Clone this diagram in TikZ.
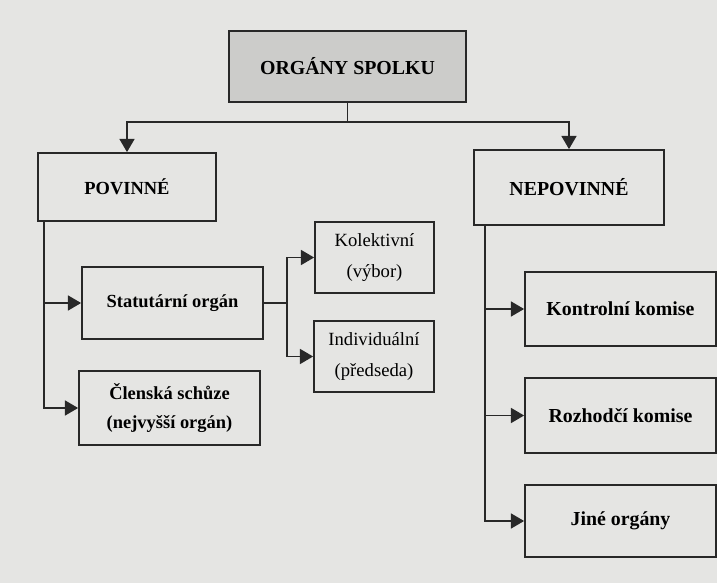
\documentclass[tikz,border=0pt]{standalone}
\usepackage{fontspec}
\setmainfont{Liberation Serif}
\usepackage{tikz}
\usetikzlibrary{arrows.meta}

\definecolor{paper}{RGB}{229,229,227}
\definecolor{ink}{RGB}{40,40,40}
\definecolor{headfill}{RGB}{204,204,202}

\tikzset{
  box/.style={draw=ink, line width=1pt, rectangle, align=center,
    inner sep=0pt, font=\fontsize{10.5}{17}\selectfont\bfseries},
  bigbox/.style={box, font=\fontsize{11.3}{17}\selectfont\bfseries},
  subbox/.style={box, font=\fontsize{10.6}{18}\selectfont},
  link/.style={draw=ink, line width=1pt},
  arr/.style={link, -{Triangle[length=7.5pt,width=8.5pt]}}
}

\begin{document}
\begin{tikzpicture}
      \fill[paper] (0,0) rectangle (14.34,11.66);
      \useasboundingbox (0,0) rectangle (14.34,11.66);

      \node[bigbox, fill=headfill, minimum width=4.74cm, minimum height=1.42cm] (top) at (6.95,10.33) {ORGÁNY SPOLKU};

      \node[box, minimum width=3.56cm, minimum height=1.36cm] (povinne) at (2.54,7.92) {POVINNÉ};
      \node[bigbox, minimum width=3.8cm, minimum height=1.5cm] (nepovinne) at (11.38,7.91) {NEPOVINNÉ};

      \coordinate (split) at (6.95,9.22);
      \draw[link] (top.south) -- (split);
      \draw[arr] (split) -| (povinne.north);
      \draw[arr] (split) -| (nepovinne.north);

      % povinne organy
      \node[box, minimum width=3.62cm, minimum height=1.44cm] (statutarni) at (3.45,5.6) {Statutární orgán};
      \node[box, minimum width=3.62cm, minimum height=1.48cm] (clenska) at (3.39,3.5) {Členská schůze\\(nejvyšší orgán)};

      \coordinate (pv) at (0.88,7.24);
      \draw[arr] (pv) |- (statutarni.west);
      \draw[arr] (pv) |- (clenska.west);

      \node[subbox, minimum width=2.38cm, minimum height=1.42cm] (kolektivni) at (7.49,6.51) {Kolektivní\\(výbor)};
      \node[subbox, minimum width=2.4cm, minimum height=1.42cm] (individualni) at (7.48,4.53) {Individuální\\(předseda)};

      \coordinate (st) at (5.74,5.6);
      \draw[link] (statutarni.east) -- (st);
      \draw[arr] (st) |- (kolektivni.west);
      \draw[arr] (st) |- (individualni.west);

      % nepovinne organy
      \node[bigbox, minimum width=3.82cm, minimum height=1.48cm] (kontrolni) at (12.41,5.48) {Kontrolní komise};
      \node[bigbox, minimum width=3.82cm, minimum height=1.5cm] (rozhodci) at (12.41,3.35) {Rozhodčí komise};
      \node[bigbox, minimum width=3.82cm, minimum height=1.44cm] (jine) at (12.41,1.24) {Jiné orgány};

      \coordinate (np) at (9.7,7.16);
      \draw[arr] (np) |- (kontrolni.west);
      \draw[arr] (np) |- (rozhodci.west);
      \draw[arr] (np) |- (jine.west);

    \end{tikzpicture}
\end{document}
